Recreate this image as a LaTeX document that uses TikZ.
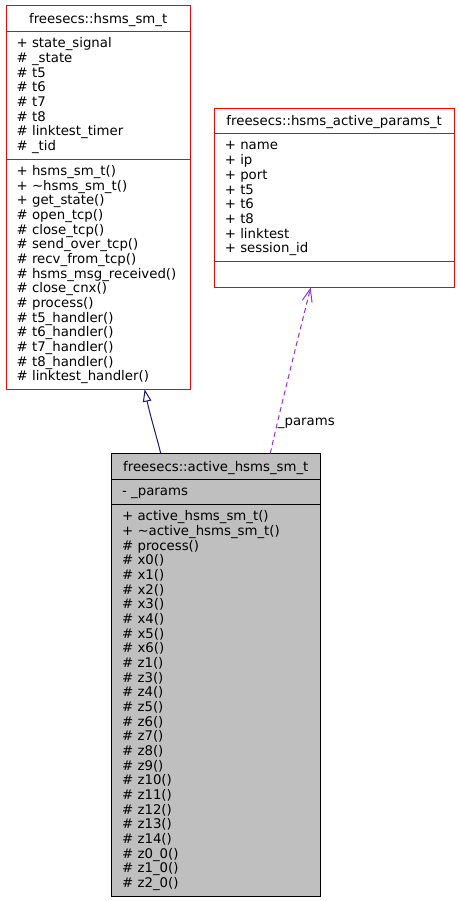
\documentclass[tikz,border=0pt]{standalone}
\usepackage{fontspec}
\setmainfont{DejaVu Sans}
\usetikzlibrary{arrows.meta}
\definecolor{edgeblue}{HTML}{191970}
\definecolor{edgepurple}{HTML}{9A32CD}
\definecolor{boxgrey}{HTML}{BFBFBF}
\begin{document}
\begin{tikzpicture}[x=1pt,y=-1pt,
  redbox/.style={draw=red, fill=white, line width=1pt, inner sep=0pt, anchor=north west},
  greybox/.style={draw=black, fill=boxgrey, line width=1pt, inner sep=0pt, anchor=north west},
  memb/.style={anchor=base west, inner sep=0pt, font=\fontsize{13.3}{14.67}\selectfont},
  ttl/.style={anchor=base, inner sep=0pt, font=\fontsize{13.3}{14.67}\selectfont},
  sepred/.style={draw=red, line width=1pt},
  sepblack/.style={draw=black, line width=1pt},
  inherit/.style={draw=edgeblue, line width=1pt, -{Triangle[open, length=12.5pt, width=8.5pt]}},
  usage/.style={draw=edgepurple, line width=1pt, dash pattern=on 5pt off 3.5pt, -{Straight Barb[length=13pt, width=10pt]}},
  elabel/.style={anchor=base, inner sep=0pt, font=\fontsize{13.3}{14.67}\selectfont}
]
\useasboundingbox (0,0) rectangle (459,901);

% ---------- box 1: freesecs::hsms_sm_t ----------
\node[redbox, minimum width=184.3pt, minimum height=383.7pt] (b1) at (6,5.3) {};
\draw[sepred] (6,31.7) -- (190.3,31.7);
\draw[sepred] (6,159.3) -- (190.3,159.3);
\node[ttl] (b1t) at (98.2,23.3) {freesecs::hsms\_sm\_t};
\foreach \t [count=\i] in {+ state\_signal, \# \_state, \# t5, \# t6, \# t7, \# t8, \# linktest\_timer, \# \_tid}
  \node[memb] (b1a\i) at (16.5,{47.7+14.67*(\i-1)}) {\t};
\foreach \t [count=\i] in {+ hsms\_sm\_t(), + \textasciitilde hsms\_sm\_t(), + get\_state(), \# open\_tcp(), \# close\_tcp(), \# send\_over\_tcp(), \# recv\_from\_tcp(), \# hsms\_msg\_received(), \# close\_cnx(), \# process(), \# t5\_handler(), \# t6\_handler(), \# t7\_handler(), \# t8\_handler(), \# linktest\_handler()}
  \node[memb] (b1m\i) at (16.5,{175.6+14.67*(\i-1)}) {\t};

% ---------- box 2: freesecs::hsms_active_params_t ----------
\node[redbox, minimum width=240.3pt, minimum height=178.7pt] (b2) at (214,108.3) {};
\draw[sepred] (214,133.3) -- (454.3,133.3);
\draw[sepred] (214,261.7) -- (454.3,261.7);
\node[ttl] (b2t) at (334.2,126) {freesecs::hsms\_active\_params\_t};
\foreach \t [count=\i] in {+ name, + ip, + port, + t5, + t6, + t8, + linktest, + session\_id}
  \node[memb] (b2a\i) at (224.7,{150+14.67*(\i-1)}) {\t};

% ---------- box 3: freesecs::active_hsms_sm_t ----------
\node[greybox, minimum width=209pt, minimum height=442.7pt] (b3) at (111.3,453.3) {};
\draw[sepblack] (111.3,479.3) -- (320.3,479.3);
\draw[sepblack] (111.3,504.7) -- (320.3,504.7);
\node[ttl] (b3t) at (215.8,471.2) {freesecs::active\_hsms\_sm\_t};
\node[memb] (b3a1) at (122,495.6) {- \_params};
\foreach \t [count=\i] in {+ active\_hsms\_sm\_t(), + \textasciitilde active\_hsms\_sm\_t(), \# process(), \# x0(), \# x1(), \# x2(), \# x3(), \# x4(), \# x5(), \# x6(), \# z1(), \# z3(), \# z4(), \# z5(), \# z6(), \# z7(), \# z8(), \# z9(), \# z10(), \# z11(), \# z12(), \# z13(), \# z14(), \# z0\_0(), \# z1\_0(), \# z2\_0()}
  \node[memb] (b3m\i) at (122,{520.8+14.67*(\i-1)}) {\t};

% ---------- connectors ----------
\coordinate (inhS) at (160.7,453.3);
\coordinate (inhE) at (144.6,389.2);
\draw[inherit] (inhS) .. controls (157,438) and (150,415) .. (inhE);

\coordinate (useS) at (270.3,453.3);
\coordinate (useE) at (310.7,287.5);
\draw[usage] (useS) .. controls (280,410) and (300,330) .. (useE);
\node[elabel] (usel) at (306.3,425.5) {\_params};
\end{tikzpicture}
\end{document}
